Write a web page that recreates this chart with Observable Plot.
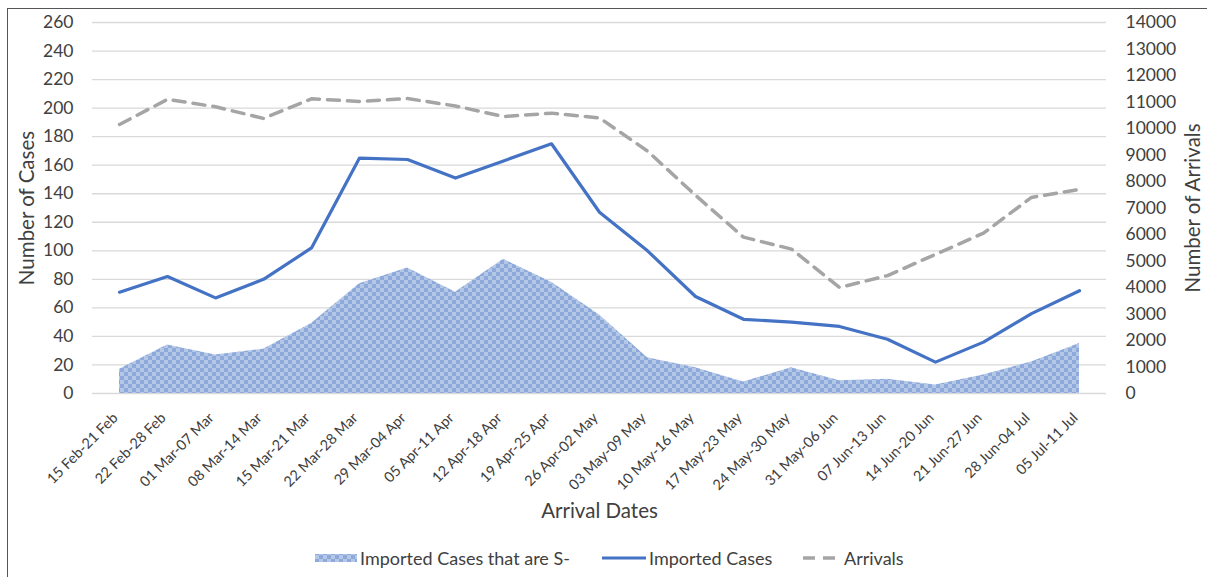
<!DOCTYPE html>
<html>
<head>
<meta charset="utf-8">
<script src="https://cdn.jsdelivr.net/npm/d3@7"></script>
<script src="https://cdn.jsdelivr.net/npm/@observablehq/plot@0.6"></script>
<style>
  html, body { margin: 0; padding: 0; background: #fff; }
  #wrap { position: relative; width: 1207px; height: 577px; overflow: hidden; font-family: Lato, "Open Sans", sans-serif; }
  #frame { position: absolute; left: 7px; top: 8px; width: 1220px; height: 600px; border: 1.3px solid #555; box-sizing: border-box; }
  #chart { position: absolute; left: 0; top: 0; }
  #legend { position: absolute; left: 0; top: 0; width: 1207px; height: 577px; font-size: 18px; color: #404040; pointer-events: none; }
  .sw { position: absolute; }
  .lbl { position: absolute; line-height: 20px; white-space: nowrap; }
</style>
</head>
<body>
<div id="wrap">
  <div id="frame"></div>
  <div id="chart"></div>
  <div id="legend"></div>
</div>
<script>
const categories = ["15 Feb-21 Feb","22 Feb-28 Feb","01 Mar-07 Mar","08 Mar-14 Mar","15 Mar-21 Mar","22 Mar-28 Mar","29 Mar-04 Apr","05 Apr-11 Apr","12 Apr-18 Apr","19 Apr-25 Apr","26 Apr-02 May","03 May-09 May","10 May-16 May","17 May-23 May","24 May-30 May","31 May-06 Jun","07 Jun-13 Jun","14 Jun-20 Jun","21 Jun-27 Jun","28 Jun-04 Jul","05 Jul-11 Jul"];
const importedCases = [71, 82, 67, 80, 102, 165, 164, 151, 163, 175, 127, 100, 68, 52, 50, 47, 38, 22, 36, 56, 72];
const importedSNeg = [17, 34, 27, 31, 49, 77, 88, 71, 94, 78, 55, 25, 18, 8, 18, 9, 10, 6, 13, 22, 35];
const arrivals = [10150, 11100, 10820, 10380, 11120, 11020, 11130, 10850, 10450, 10580, 10400, 9150, 7480, 5900, 5450, 4000, 4450, 5250, 6050, 7400, 7700];
const leftTicks = d3.range(0, 261, 20);
const rightTicks = d3.range(0, 14001, 1000);

const LEFT_MAX = 260, RIGHT_MAX = 14000;
const toLeft = v => v * LEFT_MAX / RIGHT_MAX;

const rows = categories.map((c, i) => ({
  cat: c, cases: importedCases[i], sneg: importedSNeg[i], arr: arrivals[i], arrScaled: toLeft(arrivals[i])
}));

const font = "Lato, 'Open Sans', sans-serif";

const chart = Plot.plot({
  width: 1207,
  height: 577,
  marginLeft: 92,
  marginRight: 101,
  marginTop: 22,
  marginBottom: 184,
  style: { fontFamily: font, fontSize: "16px", color: "#404040", background: "transparent", overflow: "visible" },
  x: { type: "point", domain: categories, padding: 0.5 },
  y: { domain: [0, LEFT_MAX] },
  marks: [
    Plot.ruleY(leftTicks, { stroke: "#d9d9d9", strokeWidth: 1.3 }),
    Plot.areaY(rows, { x: "cat", y: "sneg", fill: "url(#checker)", curve: "linear" }),
    Plot.lineY(rows, { x: "cat", y: "arrScaled", stroke: "#a5a5a5", strokeWidth: 3.5, strokeDasharray: "12,8", curve: "linear" }),
    Plot.lineY(rows, { x: "cat", y: "cases", stroke: "#4472c4", strokeWidth: 3.2, curve: "linear", strokeLinejoin: "round" }),
    Plot.axisY(leftTicks, { anchor: "left", tickSize: 0, tickPadding: 19, fontSize: 17.5, label: null }),
    Plot.axisY(rightTicks.map(toLeft), { anchor: "right", tickSize: 0, tickPadding: 19, fontSize: 17.5, textAnchor: "start", label: null, tickFormat: d => String(Math.round(d * RIGHT_MAX / LEFT_MAX)) }),
    Plot.axisX({ tickSize: 0, tickRotate: -45, tickPadding: 22, dx: -4, fontSize: 14.5, label: null }),
    Plot.text(["Number of Cases"], { frameAnchor: "left", textAnchor: "middle", dx: -65, rotate: -90, fontSize: 20.5, fill: "#404040" }),
    Plot.text(["Number of Arrivals"], { frameAnchor: "right", textAnchor: "middle", dx: 87, rotate: -90, fontSize: 20.5, fill: "#404040" }),
    Plot.text(["Arrival Dates"], { frameAnchor: "bottom", dy: 124, fontSize: 20.5, fill: "#404040" })
  ]
});

// Checkerboard pattern for the area
const svg = d3.select(chart);
const defs = svg.insert("defs", ":first-child");
const pat = defs.append("pattern").attr("id", "checker").attr("patternUnits", "userSpaceOnUse").attr("width", 8).attr("height", 8);
pat.append("rect").attr("width", 8).attr("height", 8).attr("fill", "#b4c7e7");
pat.append("rect").attr("width", 4).attr("height", 4).attr("fill", "#8eaadb");
pat.append("rect").attr("x", 4).attr("y", 4).attr("width", 4).attr("height", 4).attr("fill", "#8eaadb");

document.getElementById("chart").appendChild(chart);

// Legend
const legend = d3.select("#legend");
const legendItems = ["Imported Cases that are S-", "Imported Cases", "Arrivals"];
const legendSwatchX = [315, 602, 803];
const legendTextX = [360, 649, 844];
const cy = 558;
legendItems.forEach((label, i) => {
  const s = legend.append("svg").attr("class", "sw")
    .style("left", legendSwatchX[i] + "px").style("top", (cy - 7) + "px")
    .attr("width", 44).attr("height", 14);
  if (i === 0) {
    const d = s.append("defs").append("pattern").attr("id", "checker2").attr("patternUnits", "userSpaceOnUse").attr("width", 8).attr("height", 8);
    d.append("rect").attr("width", 8).attr("height", 8).attr("fill", "#b4c7e7");
    d.append("rect").attr("width", 4).attr("height", 4).attr("fill", "#8eaadb");
    d.append("rect").attr("x", 4).attr("y", 4).attr("width", 4).attr("height", 4).attr("fill", "#8eaadb");
    s.append("rect").attr("x", 0).attr("y", 3).attr("width", 42).attr("height", 8).attr("fill", "url(#checker2)");
  } else if (i === 1) {
    s.append("line").attr("x1", 0).attr("x2", 45).attr("y1", 7).attr("y2", 7).attr("stroke", "#4472c4").attr("stroke-width", 3.2);
  } else {
    s.append("line").attr("x1", 0).attr("x2", 34).attr("y1", 7).attr("y2", 7).attr("stroke", "#a5a5a5").attr("stroke-width", 3.5).attr("stroke-dasharray", "12,8");
  }
  legend.append("div").attr("class", "lbl")
    .style("left", legendTextX[i] + "px").style("top", (cy - 10) + "px")
    .text(label);
});
</script>
</body>
</html>
